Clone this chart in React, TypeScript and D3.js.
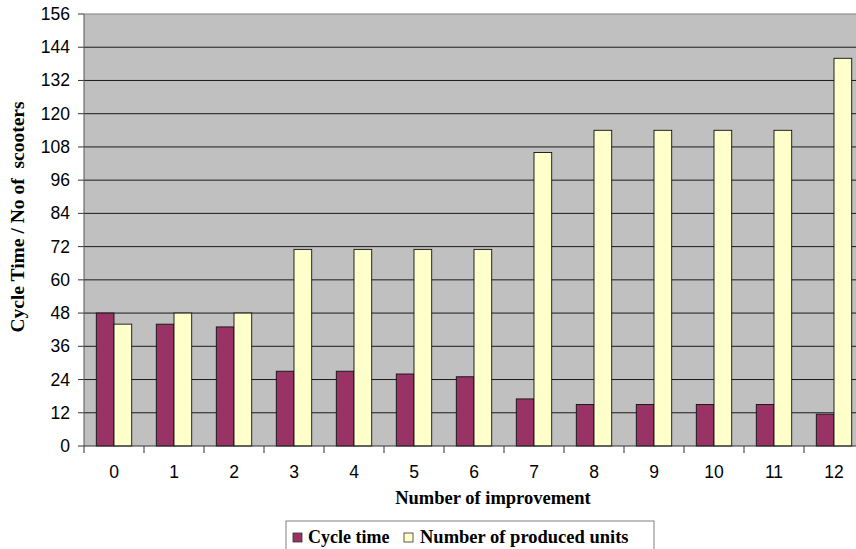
import React from "react";
import * as d3 from "d3";

const categories = ["0", "1", "2", "3", "4", "5", "6", "7", "8", "9", "10", "11", "12"];
const cycleTime = [48, 44, 43, 27, 27, 26, 25, 17, 15, 15, 15, 15, 11.5];
const producedUnits = [44, 48, 48, 71, 71, 71, 71, 106, 114, 114, 114, 114, 140];
const yTicks = [0, 12, 24, 36, 48, 60, 72, 84, 96, 108, 120, 132, 144, 156];
const seriesNames = ["Cycle time", "Number of produced units"];
const colors = ["#993366", "#FFFFCC"];

const SANS = "'Liberation Sans', Arial, sans-serif";
const SERIF = "'Liberation Serif', 'Times New Roman', serif";

export default function App() {
  const W = 856, H = 549;
  const left = 84, top = 14, bottom = 446, right = 864;
  const x = d3.scaleBand().domain(categories).range([left, right]).paddingInner(0).paddingOuter(0);
  const y = d3.scaleLinear().domain([0, 156]).range([bottom, top]);
  const bw = x.bandwidth();
  const barW = bw * 0.295;
  const series = [cycleTime, producedUnits];

  return (
    <svg width={W} height={H} style={{ position: "absolute", left: 0, top: 0, overflow: "hidden" }}>
      <rect x={0} y={0} width={W} height={H} fill="#fff" />
      <rect x={left} y={top} width={right - left} height={bottom - top} fill="#C0C0C0" />
      {yTicks.map((t) => (
        <g key={t}>
          {t > 0 && t < 156 && (
            <line x1={left} x2={right} y1={y(t)} y2={y(t)} stroke="#1a1a1a" strokeWidth={1} />
          )}
          <line x1={left - 6} x2={left} y1={y(t)} y2={y(t)} stroke="#333" />
          <text x={70} y={y(t) + 6} textAnchor="end" fontFamily={SANS} fontSize={17.5} fill="#000">
            {t}
          </text>
        </g>
      ))}
      <line x1={left} x2={right} y1={top} y2={top} stroke="#808080" strokeWidth={1} />
      {categories.map((c, i) =>
        series.map((s, j) => {
          const cx = (x(c) as number) + bw / 2;
          const bx = j === 0 ? cx - barW : cx;
          return (
            <rect key={c + "-" + j} x={bx} y={y(s[i])} width={barW} height={bottom - y(s[i])}
              fill={colors[j]} stroke="#111" strokeWidth={0.9} />
          );
        })
      )}
      <line x1={left} x2={left} y1={top} y2={bottom} stroke="#555" />
      <line x1={left} x2={right} y1={bottom} y2={bottom} stroke="#333" />
      {categories.map((c) => (
        <g key={"xt" + c}>
          <line x1={(x(c) as number)} x2={(x(c) as number)} y1={bottom} y2={bottom + 7} stroke="#333" />
          <text x={(x(c) as number) + bw / 2} y={478} textAnchor="middle" fontFamily={SANS} fontSize={17.5} fill="#000">
            {c}
          </text>
        </g>
      ))}
      <text x={493} y={504} textAnchor="middle" fontFamily={SERIF} fontWeight="bold" fontSize={18.5}>
        Number of improvement
      </text>
      <text transform={`translate(24,${217}) rotate(-90)`} textAnchor="middle" fontFamily={SERIF} fontWeight="bold" fontSize={19.5} style={{ whiteSpace: "pre" }}>
        {"Cycle Time / No of  scooters"}
      </text>
      <rect x={286} y={521} width={368} height={40} fill="#fff" stroke="#808080" strokeWidth={1} />
      <rect x={293} y={533} width={9} height={9} fill={colors[0]} stroke="#333" strokeWidth={0.8} />
      <text x={308} y={543} fontFamily={SERIF} fontWeight="bold" fontSize={18}>{seriesNames[0]}</text>
      <rect x={404} y={533} width={9} height={9} fill={colors[1]} stroke="#333" strokeWidth={0.8} />
      <text x={420} y={543} fontFamily={SERIF} fontWeight="bold" fontSize={18.5}>{seriesNames[1]}</text>
    </svg>
  );
}
